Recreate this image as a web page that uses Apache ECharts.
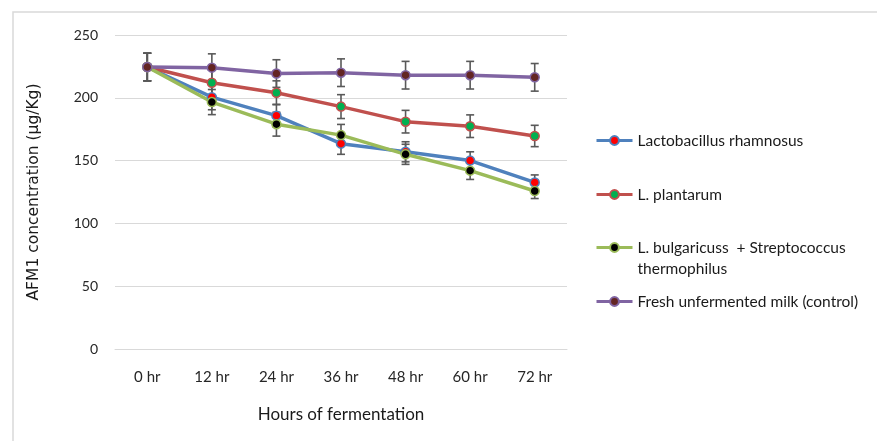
<!DOCTYPE html>
<html>
<head>
<meta charset="utf-8">
<script src="https://cdn.jsdelivr.net/npm/echarts@6/dist/echarts.min.js"></script>
<style>
  html, body { margin: 0; padding: 0; background: #ffffff; }
  #chart { width: 877px; height: 441px; }
</style>
</head>
<body>
<div id="chart"></div>
<script>
// Sampling times
var hours = ['0 hr', '12 hr', '24 hr', '36 hr', '48 hr', '60 hr', '72 hr'];

// AFM1 concentration (µg/Kg) per treatment
var rhamnosus  = [224.5, 200.5, 185.8, 163.5, 157.0, 150.0, 132.6];
var plantarum  = [224.5, 212.0, 204.0, 193.0, 181.0, 177.4, 169.6];
var bulgaricus = [224.5, 196.6, 179.0, 170.3, 155.0, 142.0, 125.8];
var control    = [224.5, 224.0, 219.3, 220.0, 218.0, 218.0, 216.3];

// Standard deviations (error bar half-lengths)
var rhamnosusErr  = [11, 10, 9, 8.5, 8, 7, 6];
var plantarumErr  = [11, 10, 9.5, 9.5, 9, 9, 8.5];
var bulgaricusErr = [11, 10, 9.5, 8.5, 8, 7, 6];
var controlErr    = [11, 11, 11, 11, 11, 11, 11];

// Axis ticks
var yMin = 0, yMax = 250, yStep = 50;

var names = [
  'Lactobacillus rhamnosus',
  'L. plantarum',
  'L. bulgaricuss  + Streptococcus\nthermophilus',
  'Fresh unfermented milk (control)'
];
var lineColors   = ['#4f81bd', '#c0504d', '#9bbb59', '#8064a2'];
var markerColors = ['#ff0000', '#00b050', '#000000', '#632523'];
var values = [rhamnosus, plantarum, bulgaricus, control];
var errors = [rhamnosusErr, plantarumErr, bulgaricusErr, controlErr];

var FONT = 'Lato';

var series = [];
values.forEach(function (vals, i) {
  series.push({
    name: names[i],
    type: 'line',
    data: vals,
    z: 3,
    symbol: 'circle',
    symbolSize: 9,
    lineStyle: { color: lineColors[i], width: 3.5 },
    itemStyle: { color: markerColors[i], borderColor: lineColors[i], borderWidth: 1.5 },
    emphasis: { disabled: true },
    animation: false
  });
});

// Error bars: vertical whisker with caps at mean ± sd
values.forEach(function (vals, i) {
  var barData = vals.map(function (v, k) { return [k, v - errors[i][k], v + errors[i][k]]; });
  series.push({
    type: 'custom',
    z: 2,
    silent: true,
    animation: false,
    data: barData,
    renderItem: function (params, api) {
      var lo = api.coord([api.value(0), api.value(1)]);
      var hi = api.coord([api.value(0), api.value(2)]);
      var cap = 4;
      var st = { stroke: '#595959', lineWidth: 1.6 };
      return {
        type: 'group',
        children: [
          { type: 'line', shape: { x1: lo[0], y1: lo[1], x2: hi[0], y2: hi[1] }, style: st },
          { type: 'line', shape: { x1: lo[0] - cap, y1: lo[1], x2: lo[0] + cap, y2: lo[1] }, style: st },
          { type: 'line', shape: { x1: hi[0] - cap, y1: hi[1], x2: hi[0] + cap, y2: hi[1] }, style: st }
        ]
      };
    }
  });
});

// One legend block per treatment so rows sit where they should.
// A wrapped name gets a leading blank line so its first line lines up with the icon.
var legendTops = [130, 184, 216, 291];
var legends = names.map(function (n, i) {
  return {
    data: [n],
    orient: 'vertical',
    left: 595,
    top: legendTops[i],
    padding: 0,
    itemWidth: 36,
    itemHeight: 11,
    selectedMode: false,
    lineStyle: { width: 3 },
    formatter: function (name) {
      return name.indexOf('\n') >= 0 ? '\n' + name : name;
    },
    textStyle: {
      fontFamily: FONT,
      fontSize: 15.5,
      color: '#1a1a1a',
      lineHeight: 21
    }
  };
});

var chart = echarts.init(document.getElementById('chart'), null, { renderer: 'canvas' });
chart.setOption({
  backgroundColor: '#ffffff',
  animation: false,
  graphic: [{
    type: 'rect',
    shape: { x: 13, y: 12, width: 900, height: 500 },
    style: { fill: 'none', stroke: '#d9d9d9', lineWidth: 1.5 },
    silent: true,
    z: -1
  }],
  grid: { left: 115, right: 310, top: 35, bottom: 92 },
  legend: legends,
  xAxis: {
    type: 'category',
    data: hours,
    boundaryGap: true,
    name: 'Hours of fermentation',
    nameLocation: 'middle',
    nameGap: 57,
    nameTextStyle: { fontFamily: FONT, fontSize: 17, color: '#1a1a1a' },
    axisLine: { show: true, lineStyle: { color: '#d9d9d9', width: 1 } },
    axisTick: { show: false },
    axisLabel: { fontFamily: FONT, fontSize: 15, color: '#262626', margin: 21 },
    splitLine: { show: false }
  },
  yAxis: {
    type: 'value',
    min: yMin,
    max: yMax,
    interval: yStep,
    name: 'AFM1 concentration (µg/Kg)',
    nameLocation: 'middle',
    nameGap: 73,
    nameTextStyle: { fontFamily: 'DejaVu Sans', fontSize: 15.5, color: '#1a1a1a' },
    axisLine: { show: false },
    axisTick: { show: false },
    axisLabel: { fontFamily: FONT, fontSize: 14, color: '#262626', margin: 17 },
    splitLine: { lineStyle: { color: '#d9d9d9', width: 1 } }
  },
  series: series
});
</script>
</body>
</html>
